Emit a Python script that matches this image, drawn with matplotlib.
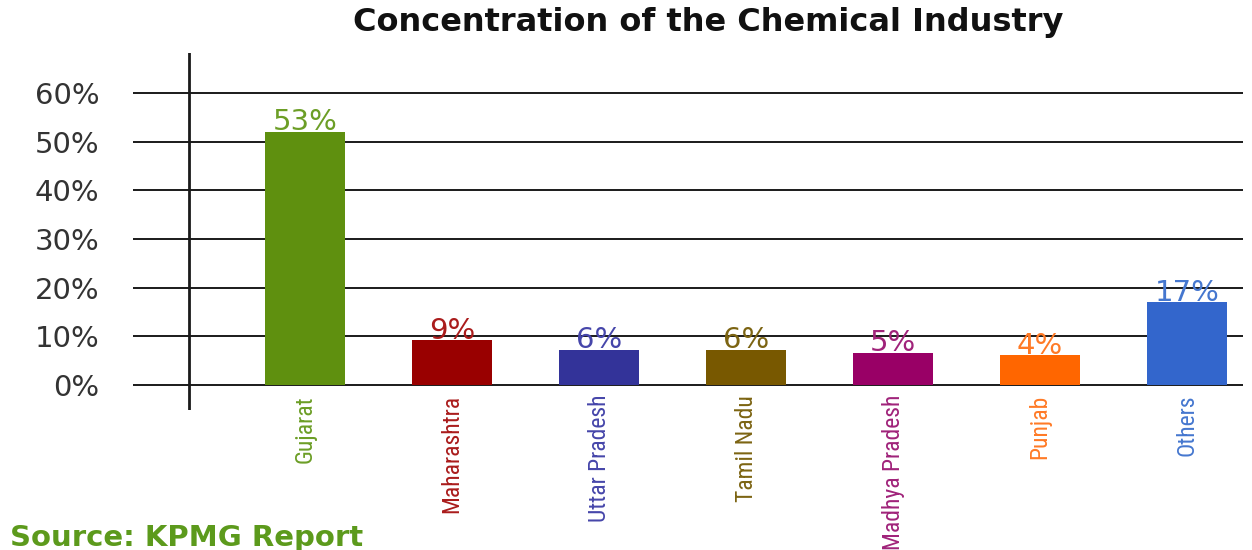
import matplotlib
matplotlib.use("Agg")
import matplotlib.pyplot as plt
from matplotlib import font_manager as fm
from matplotlib.transforms import offset_copy

# ---- data ----
states = ["Gujarat", "Maharashtra", "Uttar Pradesh", "Tamil Nadu",
          "Madhya Pradesh", "Punjab", "Others"]
bar_heights = [52.0, 9.2, 7.3, 7.3, 6.6, 6.1, 17.0]   # bar heights as drawn
value_labels = ["53%", "9%", "6%", "6%", "5%", "4%", "17%"]
y_ticks = [0, 10, 20, 30, 40, 50, 60]
y_tick_labels = ["0%", "10%", "20%", "30%", "40%", "50%", "60%"]
bar_colors = ["#5f900f", "#990000", "#333399", "#785800",
              "#990066", "#ff6600", "#3366cc"]
text_colors = ["#6c9e26", "#aa1c1c", "#4646aa", "#7c6412",
               "#a0237a", "#ff7a26", "#4577cf"]

# look for a narrow / condensed face for the rotated category labels
cands = []
for f in fm.fontManager.ttflist:
    nm = f.name.lower()
    fn = f.fname.lower()
    if f.weight in (400, "normal", "regular") and f.style == "normal":
        if ("narrow" in nm or "condensed" in nm or "condensed" in fn
                or "narrow" in fn or str(f.stretch) in ("condensed", "semi-condensed")):
            if "bold" not in fn and "italic" not in fn and "oblique" not in fn:
                cands.append(f)
pref = ["liberation sans narrow", "roboto condensed", "dejavu sans"]
cands.sort(key=lambda f: next((i for i, p in enumerate(pref) if p in f.name.lower()), 9))
if cands:
    narrow_fp = fm.FontProperties(fname=cands[0].fname, size=17)
else:
    narrow_fp = fm.FontProperties(family="DejaVu Sans", size=14)

fig = plt.figure(figsize=(12.52, 5.5), dpi=100)
ax = fig.add_axes([133 / 1252, 1 - 410 / 550, 1110 / 1252, 357 / 550])

x = list(range(len(states)))
ax.bar(x, bar_heights, width=0.54, color=bar_colors, zorder=3)

ax.set_xlim(-1.17, 6.38)
ax.set_ylim(-5.1, 68.2)

for t in y_ticks:
    ax.axhline(t, color="#1a1a1a", lw=1.4, zorder=1)
ax.axvline(-0.79, color="#1a1a1a", lw=2.0, zorder=2)

for s in ax.spines.values():
    s.set_visible(False)
ax.set_xticks([])
ax.set_yticks(y_ticks)
ax.set_yticklabels(y_tick_labels, fontsize=21, color="#333333",
                   family="DejaVu Sans")
ax.tick_params(axis="y", length=0, pad=24)

for xi, h, lab, c in zip(x, bar_heights, value_labels, text_colors):
    tr = offset_copy(ax.transData, fig=fig, x=0, y=-3, units="points")
    ax.text(xi, h, lab, ha="center", va="bottom", fontsize=21, color=c,
            family="DejaVu Sans", transform=tr, zorder=4)

for xi, name, c in zip(x, states, text_colors):
    tr = offset_copy(ax.transData, fig=fig, x=0, y=-7, units="points")
    ax.text(xi, 0, name, rotation=90, ha="center", va="top",
            fontproperties=narrow_fp, color=c, transform=tr, clip_on=False)

fig.text(0.566, 1 - 23 / 550, "Concentration of the Chemical Industry",
         ha="center", va="center", fontsize=23, fontweight="bold",
         color="#111111", family="DejaVu Sans")
fig.text(10 / 1252, 1 - 538 / 550, "Source: KPMG Report", ha="left",
         va="center", fontsize=21, fontweight="bold", color="#5c9a1c",
         family="DejaVu Sans")

fig.savefig("out.png", dpi=100, facecolor="white")
